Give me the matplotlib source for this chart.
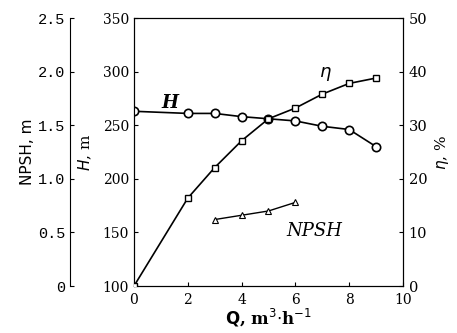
import matplotlib.pyplot as plt

plt.rcParams['font.family'] = ['DejaVu Serif']

# pump performance data
q_h = [0, 2, 3, 4, 5, 6, 7, 8, 9]
head = [263, 261, 261, 258, 256, 254, 249, 246, 230]

q_eta = [0, 2, 3, 4, 5, 6, 7, 8, 9]
eta = [0, 16.4, 22.1, 27.1, 31.2, 33.2, 35.8, 37.8, 38.8]

q_npsh = [3, 4, 5, 6]
npsh = [0.62, 0.66, 0.70, 0.78]

fig = plt.figure(figsize=(4.57, 3.33), dpi=100)
ax = fig.add_axes([0.2932, 0.1411, 0.5886, 0.8048])

ax.plot(q_h, head, 'k-o', lw=1.2, ms=6, mfc='white', mec='black', mew=1.2, zorder=3)
ax.set_xlim(0, 10)
ax.set_ylim(100, 350)
ax.set_xticks([0, 2, 4, 6, 8, 10])
ax.set_yticks([100, 150, 200, 250, 300, 350])
ax.tick_params(direction='in', length=3, labelsize=10, top=False, right=False)
ax.tick_params(axis='x', pad=5)
ax.set_xlabel(r'$\mathbf{Q}$, m$^3$$\cdot$h$^{-1}$', fontsize=12, fontweight='bold', labelpad=0)
ax.set_ylabel(r'$H$, m', fontsize=11, labelpad=6)

# efficiency on the right
ax_eta = ax.twinx()
ax_eta.plot(q_eta, eta, 'k-s', lw=1.2, ms=5, mfc='white', mec='black', mew=1.0, zorder=3)
ax_eta.set_ylim(0, 50)
ax_eta.set_yticks([0, 10, 20, 30, 40, 50])
ax_eta.set_yticklabels(['0', '10', '20', '30', '40', '50'])
ax_eta.tick_params(direction='in', length=3, labelsize=10.5, pad=4)
ax_eta.set_ylabel(r'$\eta$, %', fontsize=11, rotation=90, labelpad=4)

# NPSH on an offset left axis
ax_n = ax.twinx()
ax_n.spines['left'].set_position(('axes', -0.238))
ax_n.spines['left'].set_visible(True)
ax_n.spines['right'].set_visible(False)
ax_n.spines['top'].set_visible(False)
ax_n.spines['bottom'].set_visible(False)
ax_n.yaxis.set_label_position('left')
ax_n.plot(q_npsh, npsh, 'k-^', lw=1.0, ms=4, mfc='white', mec='black', mew=0.8)
ax_n.set_ylim(0, 2.5)
ax_n.set_yticks([0, 0.5, 1.0, 1.5, 2.0, 2.5])
ax_n.set_yticklabels(['0', '0.5', '1.0', '1.5', '2.0', '2.5'], family='Liberation Mono')
ax_n.tick_params(axis='y', left=True, labelleft=True, right=False, labelright=False,
                 direction='in', length=3, labelsize=11)
ax_n.set_ylabel('NPSH, m', fontsize=11, family='DejaVu Sans', labelpad=2)

ax.text(1.35, 271, 'H', fontsize=13, style='italic', fontweight='bold', ha='center', va='center')
ax.text(7.1, 298, r'$\eta$', fontsize=13, ha='center', va='center')
ax.text(6.7, 151, 'NPSH', fontsize=13, style='italic', ha='center', va='center')

fig.savefig('out.png', dpi=100)
